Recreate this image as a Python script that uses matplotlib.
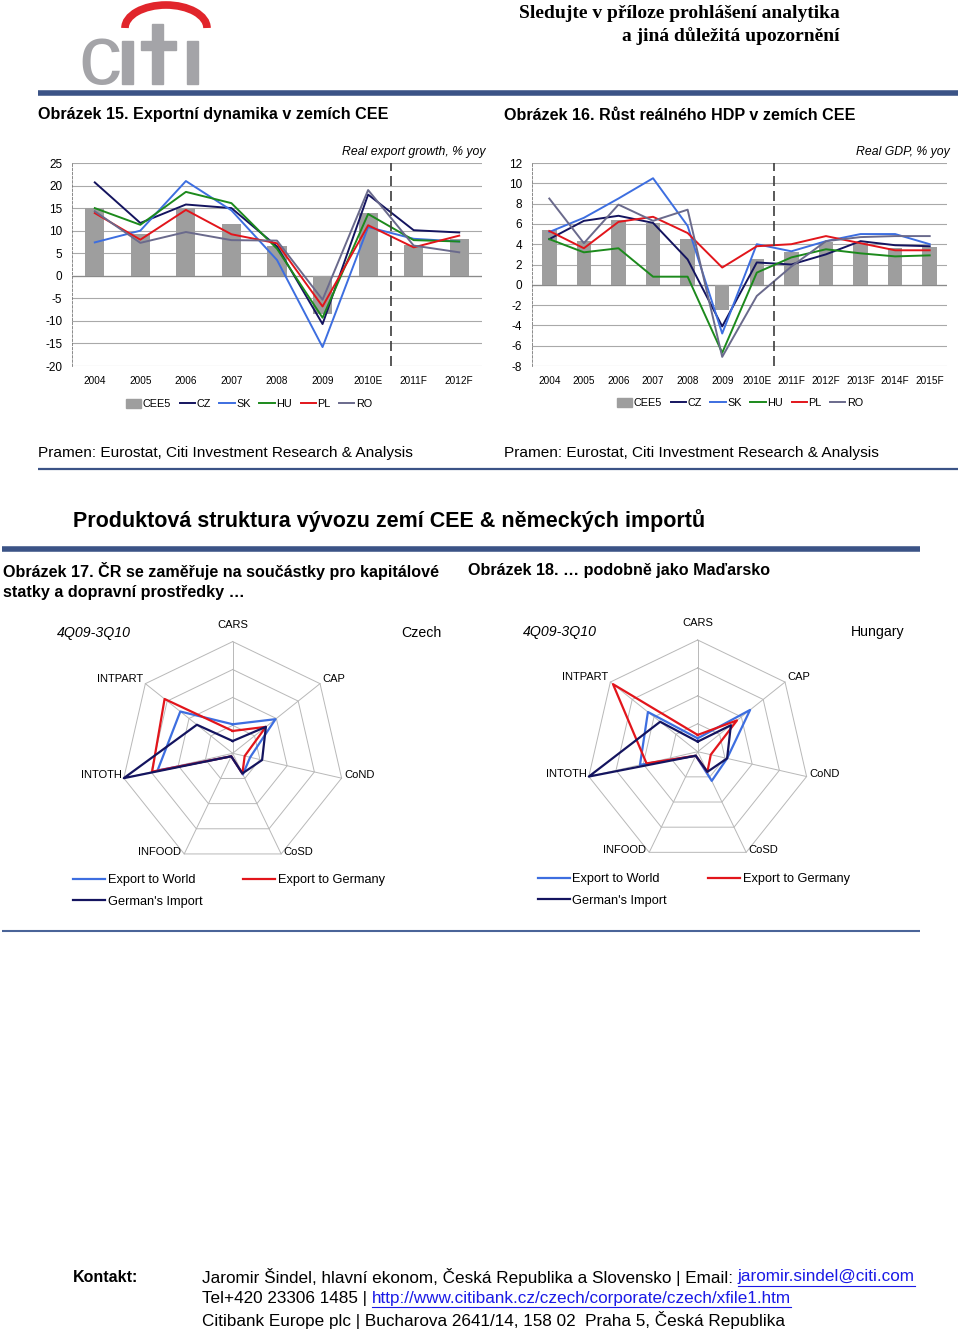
import numpy as np
import matplotlib
matplotlib.use('Agg')
import matplotlib.pyplot as plt
from matplotlib.patches import Arc, Patch, Rectangle
from matplotlib.lines import Line2D

plt.rcParams['font.family'] = ['Liberation Sans', 'DejaVu Sans']
plt.rcParams['axes.unicode_minus'] = False

W, H = 960, 1332

# --- Obrazek 15: real export growth, % yoy
years_exp = ['2004', '2005', '2006', '2007', '2008', '2009', '2010E', '2011F', '2012F']
exp_cee5 = [15.0, 9.2, 15.0, 11.4, 6.6, -8.5, 14.0, 6.8, 8.2]
exp_cz = [20.7, 11.7, 15.8, 15.0, 6.5, -10.7, 18.0, 10.1, 9.6]
exp_sk = [7.4, 10.0, 21.0, 14.5, 3.5, -15.8, 10.8, 8.2, 7.6]
exp_hu = [15.0, 11.3, 18.6, 16.1, 6.0, -9.3, 13.7, 7.9, 7.6]
exp_pl = [13.9, 8.0, 14.6, 9.2, 7.2, -6.8, 11.2, 6.3, 8.9]
exp_ro = [14.3, 7.3, 9.7, 7.9, 7.8, -5.3, 19.0, 6.7, 5.2]

# --- Obrazek 16: real GDP, % yoy
years_gdp = ['2004', '2005', '2006', '2007', '2008', '2009', '2010E',
             '2011F', '2012F', '2013F', '2014F', '2015F']
gdp_cee5 = [5.4, 4.3, 6.4, 6.1, 4.5, -2.5, 2.5, 3.2, 4.2, 4.1, 3.6, 3.7]
gdp_cz = [4.5, 6.3, 6.8, 6.1, 2.5, -4.1, 2.2, 2.0, 3.0, 4.3, 3.9, 3.8]
gdp_sk = [5.2, 6.6, 8.5, 10.5, 5.8, -4.8, 4.0, 3.3, 4.3, 5.0, 5.0, 4.0]
gdp_hu = [4.5, 3.2, 3.6, 0.8, 0.8, -6.7, 1.2, 2.7, 3.5, 3.1, 2.8, 2.9]
gdp_pl = [5.3, 3.6, 6.2, 6.7, 5.1, 1.7, 3.8, 4.0, 4.8, 4.1, 3.4, 3.4]
gdp_ro = [8.5, 4.1, 7.9, 6.3, 7.4, -7.1, -1.1, 1.8, 4.3, 4.7, 4.8, 4.8]

# --- Obrazek 17/18: product structure (shares), 4Q09-3Q10
radar_cats = ['CARS', 'CAP', 'CoND', 'CoSD', 'INFOOD', 'INTOTH', 'INTPART']
cz_world = [0.104, 0.196, 0.064, 0.084, 0.012, 0.276, 0.240]
cz_germany = [0.080, 0.152, 0.044, 0.080, 0.012, 0.296, 0.312]
cz_import = [0.044, 0.152, 0.108, 0.080, 0.012, 0.400, 0.164]
hu_world = [0.048, 0.240, 0.108, 0.116, 0.016, 0.212, 0.228]
hu_germany = [0.060, 0.180, 0.048, 0.080, 0.016, 0.188, 0.388]
hu_import = [0.036, 0.152, 0.108, 0.080, 0.016, 0.400, 0.172]
radar_rings = [0.1, 0.2, 0.3, 0.4]

NAVY = '#14145f'
BLUE = '#3d6ee0'
GREEN = '#1c8a1c'
RED = '#e2151b'
SLATE = '#6a6a8c'
BAR = '#9e9e9e'
RULE = '#3b5386'
LOGO = '#a4a4a8'

fig = plt.figure(figsize=(W / 100, H / 100), dpi=100)
bg = fig.add_axes([0, 0, 1, 1])
bg.set_xlim(0, W)
bg.set_ylim(H, 0)
bg.axis('off')


def px_rect(x0, y0, x1, y1):
    return [x0 / W, 1 - y1 / H, (x1 - x0) / W, (y1 - y0) / H]


# header: logo + disclaimer
bg.text(78, 84, 'c', fontsize=62, color=LOGO, ha='left', va='baseline')
bg.add_patch(Rectangle((122, 41), 11, 43, color=LOGO))
bg.add_patch(Rectangle((152, 24), 11, 60, color=LOGO))
bg.add_patch(Rectangle((141, 41), 35, 9, color=LOGO))
bg.add_patch(Rectangle((187, 41), 11, 43, color=LOGO))
bg.add_patch(Arc((166, 28), 82, 46, theta1=180, theta2=360, color='#e1252b', lw=5.5))
bg.text(840, 14, 'Sledujte v příloze prohlášení analytika', family='Liberation Serif',
        fontweight='bold', fontsize=14, ha='right', va='center')
bg.text(840, 36, 'a jiná důležitá upozornění', family='Liberation Serif',
        fontweight='bold', fontsize=14, ha='right', va='center')
bg.plot([38, 958], [93, 93], color=RULE, lw=4, solid_capstyle='butt')

bg.text(38, 115, 'Obrázek 15. Exportní dynamika v zemích CEE', fontweight='bold',
        fontsize=11.6, va='center')
bg.text(504, 115, 'Obrázek 16. Růst reálného HDP v zemích CEE', fontweight='bold',
        fontsize=11.6, va='center')


def line_chart(rect, cats, bars, series, ylim, yticks, title, title_xy, legend_xy):
    ax = fig.add_axes(px_rect(*rect))
    x = np.arange(len(cats))
    ax.bar(x, bars, width=0.42, color=BAR, zorder=2)
    for vals, col in series:
        ax.plot(x, vals, color=col, lw=1.4, zorder=3)
    ax.set_xlim(-0.5, len(cats) - 0.5)
    ax.set_ylim(*ylim)
    ax.set_yticks(yticks)
    ax.set_xticks(x, cats)
    ax.yaxis.grid(True, color='#a9a9a9', lw=0.8)
    ax.set_axisbelow(True)
    for s in ['top', 'right', 'bottom']:
        ax.spines[s].set_visible(False)
    ax.spines['left'].set_linestyle((0, (3, 2)))
    ax.spines['left'].set_color('#777777')
    ax.spines['left'].set_linewidth(0.6)
    ax.axhline(0, color='#8a8a8a', lw=0.9, zorder=1)
    ax.axvline(6.5, color='#3c3c3c', ls=(0, (6, 3)), lw=1.2, zorder=4)
    ax.tick_params(axis='y', length=0, labelsize=8.5, pad=7)
    ax.tick_params(axis='x', length=0, labelsize=7.2, pad=7)
    bg.text(title_xy[0], title_xy[1], title, style='italic', fontsize=8.8,
            ha='right', va='center')
    handles = [Patch(color=BAR)] + [Line2D([], [], color=c, lw=1.4) for _, c in series]
    fig.legend(handles, ['CEE5', 'CZ', 'SK', 'HU', 'PL', 'RO'], loc='center',
               bbox_to_anchor=(legend_xy[0] / W, 1 - legend_xy[1] / H), ncol=6,
               frameon=False, fontsize=7.8, handlelength=1.4, handleheight=0.9,
               handletextpad=0.15, columnspacing=0.8)


line_chart((72, 163, 482, 366), years_exp, exp_cee5,
           [(exp_cz, NAVY), (exp_sk, BLUE), (exp_hu, GREEN), (exp_pl, RED), (exp_ro, SLATE)],
           (-20, 25), np.arange(-20, 26, 5), 'Real export growth, % yoy', (485, 152), (249, 404))
line_chart((532, 163, 947, 366), years_gdp, gdp_cee5,
           [(gdp_cz, NAVY), (gdp_sk, BLUE), (gdp_hu, GREEN), (gdp_pl, RED), (gdp_ro, SLATE)],
           (-8, 12), np.arange(-8, 13, 2), 'Real GDP, % yoy', (950, 152), (740, 403))

src = 'Pramen: Eurostat, Citi Investment Research & Analysis'
bg.text(38, 453, src, fontsize=11.1, va='center')
bg.text(504, 453, src, fontsize=11.1, va='center')
bg.plot([38, 958], [469, 469], color=RULE, lw=1.6, solid_capstyle='butt')

bg.text(73, 521, 'Produktová struktura vývozu zemí CEE & německých importů',
        fontweight='bold', fontsize=15.5, va='center')
bg.plot([2, 920], [549, 549], color=RULE, lw=4, solid_capstyle='butt')

bg.text(3, 571, 'Obrázek 17. ČR se zaměřuje na součástky pro kapitálové', fontweight='bold',
        fontsize=11.6, va='center')
bg.text(3, 592, 'statky a dopravní prostředky …', fontweight='bold', fontsize=11.6, va='center')
bg.text(468, 571, 'Obrázek 18. … podobně jako Maďarsko', fontweight='bold',
        fontsize=11.6, va='center')

label_style = {
    'CARS': ((0, 17), 'center'),
    'CAP': ((2, 5), 'left'),
    'CoND': ((3, 3), 'left'),
    'CoSD': ((2, 2), 'left'),
    'INFOOD': ((-3, 2), 'right'),
    'INTOTH': ((-2, 3), 'right'),
    'INTPART': ((-2, 5), 'right'),
}


def radar(center, R, world, germany, imports, country, country_x, period_x, legend_xy):
    cx, cy = center
    ax = fig.add_axes(px_rect(cx - R, cy - R, cx + R, cy + R), projection='polar')
    ax.set_theta_zero_location('N')
    ax.set_theta_direction(-1)
    rmax = radar_rings[-1]
    ax.set_ylim(0, rmax)
    ax.axis('off')
    ang = np.linspace(0, 2 * np.pi, len(radar_cats), endpoint=False)
    ang_c = np.append(ang, ang[0])
    for r in radar_rings:
        ax.plot(ang_c, [r] * len(ang_c), color='#b8b8b8', lw=0.7, clip_on=False)
    for a in ang:
        ax.plot([a, a], [0, rmax], color='#b8b8b8', lw=0.7, clip_on=False)
    for vals, col in [(world, BLUE), (germany, RED), (imports, NAVY)]:
        ax.plot(ang_c, list(vals) + [vals[0]], color=col, lw=1.6, clip_on=False)
    for a, lab in zip(ang, radar_cats):
        off, ha = label_style[lab]
        ax.annotate(lab, xy=(a, rmax), xytext=off, textcoords='offset pixels',
                    ha=ha, va='center', fontsize=8)
    bg.text(period_x, cy - 120, '4Q09-3Q10', style='italic', fontsize=10.2, va='center')
    bg.text(country_x, cy - 120, country, fontsize=10.2, va='center', ha='right')
    handles = [Line2D([], [], color=BLUE, lw=1.6), Line2D([], [], color=NAVY, lw=1.6),
               Line2D([], [], color=RED, lw=1.6)]
    fig.legend(handles, ['Export to World', "German's Import", 'Export to Germany'],
               loc='upper left', bbox_to_anchor=(legend_xy[0] / W, 1 - legend_xy[1] / H),
               ncol=2, frameon=False, fontsize=9.2, handlelength=2.5, handletextpad=0.2,
               columnspacing=3.2, labelspacing=0.75, borderaxespad=0, borderpad=0)


radar((232.7, 753.3), 111.7, cz_world, cz_germany, cz_import, 'Czech', 441, 57, (73, 874))
radar((697.7, 751.7), 111.7, hu_world, hu_germany, hu_import, 'Hungary', 905, 523, (538, 873))

bg.plot([2, 920], [931, 931], color='#4a6498', lw=1.5, solid_capstyle='butt')

# footer
bg.text(73, 1277, 'Kontakt:', fontweight='bold', fontsize=11.5, va='center')
renderer = fig.canvas.get_renderer()


def text_with_link(x, y, plain, link, fs=12.3):
    t = bg.text(x, y, plain, fontsize=fs, va='center')
    bb = t.get_window_extent(renderer)
    x2 = x + bb.width
    t2 = bg.text(x2, y, link, fontsize=fs, va='center', color='#1a1ae6')
    bb2 = t2.get_window_extent(renderer)
    bg.plot([x2, x2 + bb2.width], [y + 9, y + 9], color='#1a1ae6', lw=0.8)


text_with_link(202, 1277, 'Jaromir Šindel, hlavní ekonom, Česká Republika a Slovensko | Email: ',
               'jaromir.sindel@citi.com')
text_with_link(202, 1298, 'Tel+420 23306 1485 | ', 'http://www.citibank.cz/czech/corporate/czech/xfile1.htm')
bg.text(202, 1320, 'Citibank Europe plc | Bucharova 2641/14, 158 02  Praha 5, Česká Republika',
        fontsize=12.3, va='center')

fig.savefig('out.png', dpi=100)
